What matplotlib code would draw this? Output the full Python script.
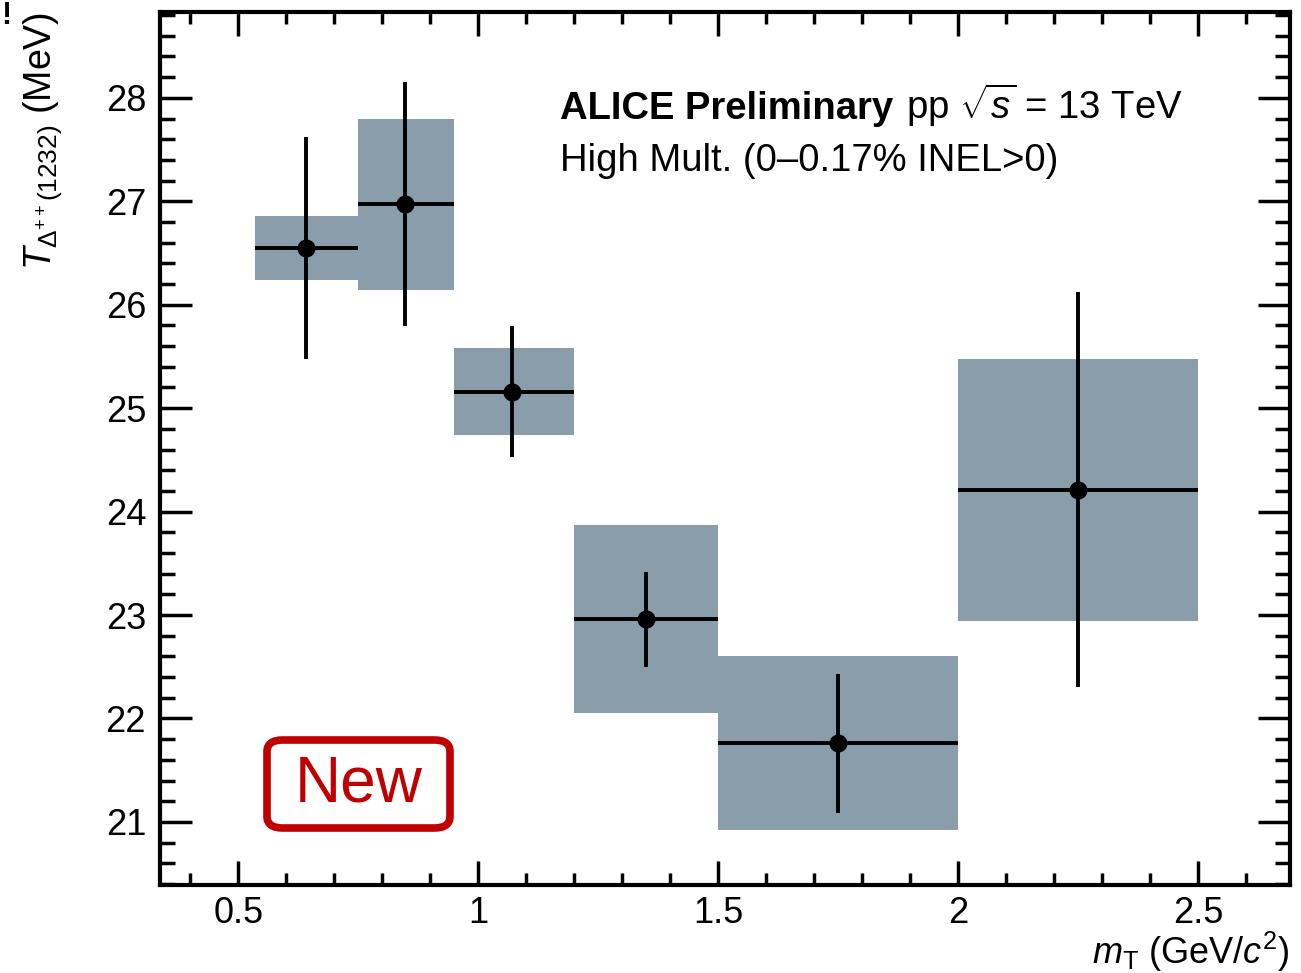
import matplotlib
matplotlib.use("Agg")
import matplotlib.pyplot as plt
from matplotlib.patches import FancyBboxPatch
from matplotlib.ticker import MultipleLocator
import numpy as np

plt.rcParams["font.family"] = ["Liberation Sans", "DejaVu Sans"]
plt.rcParams["mathtext.fontset"] = "custom"
plt.rcParams["mathtext.rm"] = "Liberation Sans"
plt.rcParams["mathtext.it"] = "Liberation Sans:italic"
plt.rcParams["mathtext.bf"] = "Liberation Sans:bold"

# m_T bins (GeV/c^2) and temperature values (MeV)
bin_lo = [0.535, 0.75, 0.95, 1.2, 1.5, 2.0]
bin_hi = [0.75, 0.95, 1.2, 1.5, 2.0, 2.5]
mt = [0.642, 0.848, 1.07, 1.35, 1.75, 2.25]
temp = [26.55, 26.97, 25.16, 22.96, 21.76, 24.21]
stat_err = [1.07, 1.18, 0.63, 0.46, 0.67, 1.91]
sys_err = [0.31, 0.83, 0.42, 0.91, 0.84, 1.27]

box_color = "#8a9dab"

fig = plt.figure(figsize=(13.01, 9.73), dpi=100)
ax = fig.add_axes([160 / 1301, 88 / 973, 1130 / 1301, 873 / 973])

lo = np.array(bin_lo)
hi = np.array(bin_hi)
x = np.array(mt)
y = np.array(temp)
st = np.array(stat_err)
sy = np.array(sys_err)

# systematic uncertainty boxes
ax.bar(lo, 2 * sy, width=hi - lo, bottom=y - sy, align="edge",
       color=box_color, edgecolor="none", zorder=1)

# points with statistical errors and bin widths
ax.errorbar(x, y, yerr=st, xerr=[x - lo, hi - x], fmt="o", color="black",
            ms=12, elinewidth=2.8, capsize=0, zorder=3)

ax.set_xlim(0.337, 2.692)
ax.set_ylim(20.39, 28.83)

ax.xaxis.set_major_locator(MultipleLocator(0.5))
ax.xaxis.set_minor_locator(MultipleLocator(0.1))
ax.yaxis.set_major_locator(MultipleLocator(1))
ax.yaxis.set_minor_locator(MultipleLocator(0.2))
ax.set_xticks([0.5, 1, 1.5, 2, 2.5])
ax.set_xticklabels(["0.5", "1", "1.5", "2", "2.5"])

for side in ax.spines.values():
    side.set_linewidth(3)

ax.tick_params(axis="both", which="both", direction="in", top=True, right=True,
               width=2.5, labelsize=26)
ax.tick_params(axis="x", which="major", length=17, pad=8)
ax.tick_params(axis="x", which="minor", length=8.5)
ax.tick_params(axis="y", which="major", length=23, pad=10)
ax.tick_params(axis="y", which="minor", length=11)

ax.set_xlabel(r"$m_{\mathrm{T}}$ (GeV/$c^{2}$)", fontsize=26, loc="right", labelpad=-1)
ax.set_ylabel(r"$T_{\Delta^{++}(1232)}$ (MeV)", fontsize=27, loc="top", labelpad=30)

ax.text(0.354, 0.878, "ALICE Preliminary", transform=ax.transAxes,
        fontsize=27.5, fontweight="bold", ha="left", va="baseline")
ax.text(0.660, 0.878, r"pp $\sqrt{s}$ = 13 TeV", transform=ax.transAxes,
        fontsize=27.5, ha="left", va="baseline")
ax.text(0.354, 0.818, "High Mult. (0\u20130.17% INEL>0)", transform=ax.transAxes,
        fontsize=27.5, ha="left", va="baseline")

# "New" badge
badge = FancyBboxPatch((267 / 1301, (973 - 828) / 973), 183 / 1301, 88 / 973,
                       boxstyle="round,pad=0,rounding_size=0.012",
                       transform=fig.transFigure, facecolor="none",
                       edgecolor="#c00000", linewidth=5.5)
fig.patches.append(badge)
fig.text(359 / 1301, (973 - 784) / 973, "New", fontsize=46, color="#c00000",
         ha="center", va="center")

fig.text(1 / 1301, 0.999, "!", fontsize=22, fontweight="bold", ha="left", va="top")

fig.savefig("out.png", dpi=100)
